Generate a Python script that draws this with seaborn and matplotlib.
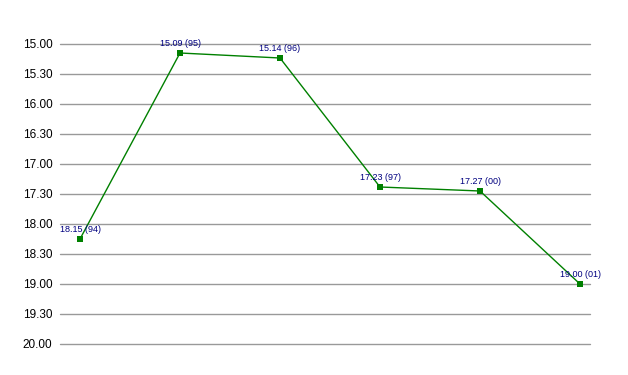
import matplotlib
matplotlib.use("Agg")
import matplotlib.pyplot as plt
from matplotlib import font_manager
import seaborn as sns
import pandas as pd

# Data: times as "min.sec" strings with season labels
times = ["18.15", "15.09", "15.14", "17.23", "17.27", "19.00"]
seasons = ["94", "95", "96", "97", "00", "01"]
tick_labels = ["15.00", "15.30", "16.00", "16.30", "17.00", "17.30",
               "18.00", "18.30", "19.00", "19.30", "20.00"]


def to_minutes(s):
    m, sec = s.split(".")
    return int(m) + int(sec) / 60.0


df = pd.DataFrame({
    "idx": list(range(len(times))),
    "value": [to_minutes(t) for t in times],
    "label": [f"{t} ({s})" for t, s in zip(times, seasons)],
})

sns.set_theme(style="white")
names = {f.name for f in font_manager.fontManager.ttflist}
fam = ["Liberation Sans Narrow", "Liberation Sans", "DejaVu Sans"]
fam = [f for f in fam if f in names] or ["DejaVu Sans"]
plt.rcParams["font.family"] = fam

fig = plt.figure(figsize=(6.28, 3.75), dpi=100)
ax = fig.add_axes([60 / 628, 1 - 344 / 375, 530 / 628, 300 / 375])

tick_vals = [to_minutes(t) for t in tick_labels]
for v in tick_vals:
    ax.axhline(v, color="#999999", lw=1.0, zorder=0, clip_on=False)

sns.lineplot(data=df, x="idx", y="value", ax=ax, color="#008000", lw=1.0,
             marker="s", markersize=4.5, markeredgewidth=0, markerfacecolor="#008000",
             zorder=3)

for _, r in df.iterrows():
    ax.annotate(r["label"], (r["idx"], r["value"]), xytext=(0, 6.5),
                textcoords="offset points", ha="center", va="center",
                fontsize=6.5, color="#000080", zorder=4)

ax.set_xlim(-0.2, 5.1)
ax.set_ylim(20.0, 15.0)
ax.set_yticks(tick_vals)
ax.set_yticklabels(tick_labels)
ax.set_xticks([])
ax.set_xlabel("")
ax.set_ylabel("")
ax.tick_params(axis="y", length=0, pad=5.5, labelsize=8.5, colors="#000000")
for sp in ax.spines.values():
    sp.set_visible(False)
ax.grid(False)

fig.savefig("out.png", dpi=100, facecolor="white")
